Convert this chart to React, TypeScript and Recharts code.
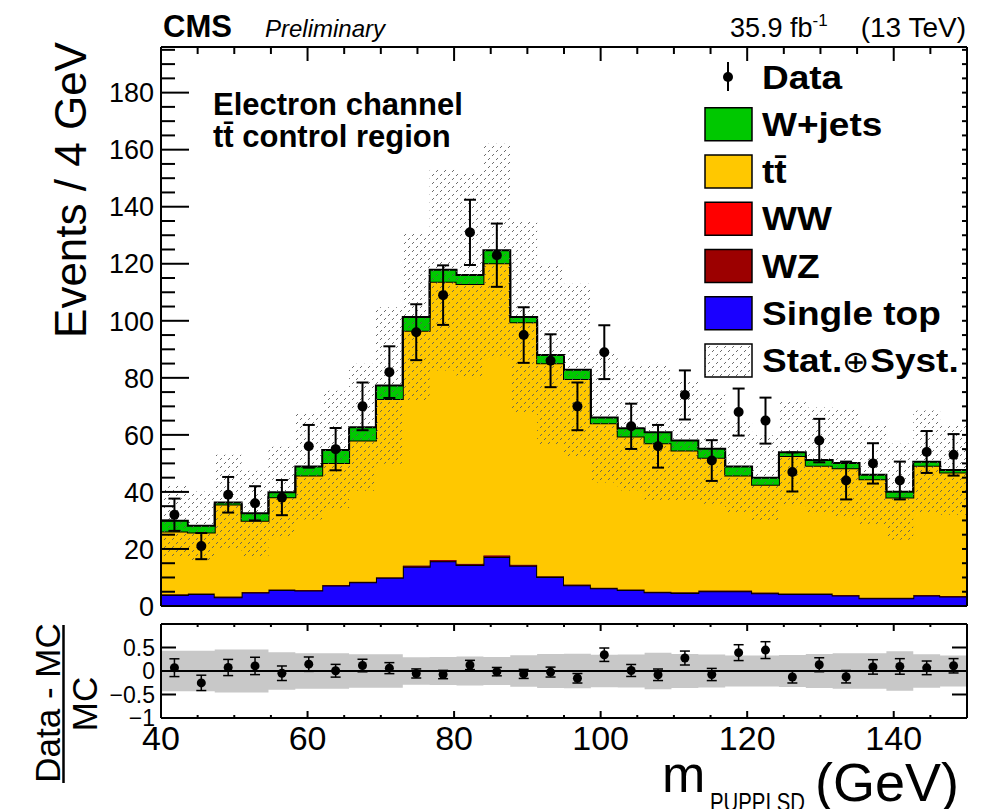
import React from 'react';
import { ComposedChart, Area, Scatter, XAxis, YAxis, ErrorBar, ReferenceLine } from 'recharts';

// Binning of the soft-drop mass axis
const X_MIN = 40;
const X_MAX = 150;
const N_BINS = 30;

// Observed events per bin
const dataCounts = [32, 21, 39, 36, 38, 56, 55, 70, 82, 96, 109, 131, 123, 95, 86, 70, 89, 63, 56, 74, 51, 68, 65, 47, 58, 44, 50, 44, 54, 53];

// Simulated backgrounds per bin (stacked bottom to top: single top, WZ, WW, ttbar, W+jets)
const singleTop = [3.9, 4.2, 3.1, 4.7, 5.6, 5.4, 7.2, 8.3, 9.9, 13.8, 15.7, 14.4, 17.2, 14.1, 10.2, 7.3, 6.2, 5.6, 4.8, 4.6, 5.2, 5.2, 4.5, 4.2, 4.2, 3.7, 2.7, 2.7, 3.7, 3.3];
const wz = [0.1, 0.1, 0.1, 0.1, 0.1, 0.1, 0.1, 0.1, 0.1, 0.2, 0.2, 0.2, 0.3, 0.2, 0.1, 0.1, 0.1, 0.1, 0.1, 0.1, 0.1, 0.1, 0.1, 0.1, 0.1, 0.1, 0.1, 0.1, 0.1, 0.1];
const ww = [0.1, 0.1, 0.1, 0.1, 0.1, 0.1, 0.1, 0.1, 0.1, 0.2, 0.2, 0.2, 0.3, 0.2, 0.1, 0.1, 0.1, 0.1, 0.1, 0.1, 0.1, 0.1, 0.1, 0.1, 0.1, 0.1, 0.1, 0.1, 0.1, 0.1];
const ttbar = [22.0, 21.4, 32.3, 25.0, 32.3, 40.2, 42.7, 49.5, 62.5, 82.3, 97.6, 98.1, 102.4, 85.0, 74.7, 72.1, 57.7, 53.6, 52.1, 49.7, 46.6, 40.4, 37.8, 48.2, 44.8, 44.4, 41.5, 35.1, 45.3, 43.3];
const wJets = [3.8, 2.3, 0.7, 2.6, 1.8, 3.1, 4.6, 4.7, 4.7, 4.8, 4.2, 3.2, 4.5, 1.8, 2.9, 3.2, 2.0, 2.9, 3.8, 3.5, 3.1, 3.1, 2.5, 1.3, 2.0, 1.8, 1.6, 2.1, 1.4, 0.9];

// Relative total (stat. + syst.) uncertainty on the prediction per bin
const systRel = [0.43, 0.43, 0.46, 0.46, 0.40, 0.38, 0.38, 0.355, 0.355, 0.29, 0.30, 0.31, 0.30, 0.335, 0.36, 0.365, 0.345, 0.35, 0.39, 0.36, 0.35, 0.33, 0.33, 0.34, 0.36, 0.38, 0.38, 0.42, 0.355, 0.33];

// Axis ticks
const xTicks = [40, 45, 50, 55, 60, 65, 70, 75, 80, 85, 90, 95, 100, 105, 110, 115, 120, 125, 130, 135, 140, 145, 150];
const yTicksMain = [0, 5, 10, 15, 20, 25, 30, 35, 40, 45, 50, 55, 60, 65, 70, 75, 80, 85, 90, 95, 100, 105, 110, 115, 120, 125, 130, 135, 140, 145, 150, 155, 160, 165, 170, 175, 180, 185, 190, 195];
const yTicksRatio = [-1, -0.5, 0, 0.5, 1];
const ratioLabels: Record<string, string> = { '-1': '\u22121', '-0.5': '\u22120.5', '0': '0', '0.5': '0.5' };

// Legend entries
const legendItems = [
  { label: 'Data', kind: 'data', color: '#000' },
  { label: 'W+jets', kind: 'box', color: '#00c800' },
  { label: 't\u0074\u0304', kind: 'box', color: '#ffc800' },
  { label: 'WW', kind: 'box', color: '#ff0000' },
  { label: 'WZ', kind: 'box', color: '#9c0000' },
  { label: 'Single top', kind: 'box', color: '#1a00ff' },
  { label: 'Stat.|Syst.', kind: 'hatch', color: '#fff' },
];

const FONT = '"Liberation Sans", Arial, Helvetica, sans-serif';

const binWidth = (X_MAX - X_MIN) / N_BINS;
const binEdges = Array.from({ length: N_BINS + 1 }, (_, i) => X_MIN + i * binWidth);
const totalMC = singleTop.map((_, b) => singleTop[b] + wz[b] + ww[b] + ttbar[b] + wJets[b]);

// One row per bin edge; the final edge repeats the last bin so the step closes at 150
const stackRows = binEdges.map((x, i) => {
  const b = Math.min(i, N_BINS - 1);
  const t = totalMC[b];
  return {
    x,
    singleTop: singleTop[b],
    wz: wz[b],
    ww: ww[b],
    ttbar: ttbar[b],
    wJets: wJets[b],
    band: [t * (1 - systRel[b]), t * (1 + systRel[b])],
    ratioBand: [-systRel[b], systRel[b]],
  };
});

const dataRows = dataCounts.map((n, b) => ({
  x: (binEdges[b] + binEdges[b + 1]) / 2,
  y: n,
  err: Math.sqrt(n),
}));

const ratioRows = dataCounts.map((n, b) => ({
  x: (binEdges[b] + binEdges[b + 1]) / 2,
  y: n / totalMC[b] - 1,
  err: Math.sqrt(n) / totalMC[b],
}));

// ---- inward-pointing ROOT style ticks ----
const MainLeftTick = (p: any) => {
  const v = p.payload.value;
  const major = v % 20 === 0;
  return (
    <g>
      <line x1={p.x} x2={p.x + (major ? 28 : 14)} y1={p.y} y2={p.y} stroke="#000" strokeWidth={2} />
      {major && (
        <text x={p.x - 7} y={p.y} dy="0.36em" textAnchor="end" fontSize={27} fontFamily={FONT} fill="#000">
          {v}
        </text>
      )}
    </g>
  );
};

const MainRightTick = (p: any) => (
  <line x1={p.x} x2={p.x - 5} y1={p.y} y2={p.y} stroke="#000" strokeWidth={2} />
);

const MainTopTick = (p: any) => {
  const major = p.payload.value % 20 === 0;
  return <line x1={p.x} x2={p.x} y1={p.y} y2={p.y + (major ? 14 : 7)} stroke="#000" strokeWidth={2} />;
};

const RatioTopTick = (p: any) => {
  const major = p.payload.value % 20 === 0;
  return <line x1={p.x} x2={p.x} y1={p.y} y2={p.y + (major ? 7 : 3)} stroke="#000" strokeWidth={2} />;
};

const RatioBottomTick = (p: any) => {
  const v = p.payload.value;
  const major = v % 20 === 0;
  return (
    <g>
      <line x1={p.x} x2={p.x} y1={p.y} y2={p.y - (major ? 7 : 3)} stroke="#000" strokeWidth={2} />
      {major && (
        <text x={p.x} y={p.y + 32} textAnchor="middle" fontSize={34} fontFamily={FONT} fill="#000">
          {v}
        </text>
      )}
    </g>
  );
};

const RatioLeftTick = (p: any) => {
  const v = p.payload.value;
  const label = ratioLabels[String(v)];
  const long = Math.abs(v) === 0.5;
  return (
    <g>
      {long && <line x1={p.x} x2={p.x + 15} y1={p.y} y2={p.y} stroke="#000" strokeWidth={2} />}
      {label && (
        <text x={p.x - 6} y={p.y} dy="0.36em" textAnchor="end" fontSize={23} fontFamily={FONT} fill="#000">
          {label}
        </text>
      )}
    </g>
  );
};

const RatioRightTick = (p: any) => (
  <line x1={p.x} x2={p.x - 15} y1={p.y} y2={p.y} stroke="#000" strokeWidth={2} />
);

const frameLine = { stroke: '#000', strokeWidth: 2 };

// Sparse dashed diagonal hatching for the uncertainty band
const HatchDef = ({ id }: { id: string }) => (
  <pattern id={id} patternUnits="userSpaceOnUse" width="8" height="8">
    <path d="M0,8 L8,0" stroke="#5a5a5a" strokeWidth="0.9" strokeDasharray="2.83 2.83" />
  </pattern>
);

const dataDot = (r: number) => (p: any) => <circle cx={p.cx} cy={p.cy} r={r} fill="#000" />;

const LegendLabel = ({ x, y, label }: { x: number; y: number; label: string }) => {
  const parts = label.split('|');
  return (
    <text transform={`translate(${x} ${y}) scale(1 0.92)`} x={0} y={0} fontSize={37} fontWeight="bold" fill="#000">
      {parts.length === 1 ? (
        label
      ) : (
        <>
          {parts[0]}
          <tspan fontWeight="normal" fontSize={33}>{'\u2295'}</tspan>
          {parts[1]}
        </>
      )}
    </text>
  );
};

export default function App() {
  const rowH = 47.25;
  return (
    <div style={{ position: 'absolute', left: 0, top: 0, width: 996, height: 809, background: '#fff', fontFamily: FONT }}>
      {/* Upper pad: stacked prediction with data */}
      <div style={{ position: 'absolute', left: 0, top: 0 }}>
        <ComposedChart width={996} height={640} data={stackRows} margin={{ top: 37, right: 19, bottom: 24, left: 151 }}>
          <defs>
            <HatchDef id="hatch" />
          </defs>
          <Area type="stepAfter" dataKey="singleTop" stackId="mc" fill="#1a00ff" fillOpacity={1} stroke="#000" strokeWidth={2} isAnimationActive={false} />
          <Area type="stepAfter" dataKey="wz" stackId="mc" fill="#9c0000" fillOpacity={1} stroke="#000" strokeWidth={0.5} isAnimationActive={false} />
          <Area type="stepAfter" dataKey="ww" stackId="mc" fill="#ff0000" fillOpacity={1} stroke="#000" strokeWidth={0.5} isAnimationActive={false} />
          <Area type="stepAfter" dataKey="ttbar" stackId="mc" fill="#ffc800" fillOpacity={1} stroke="#000" strokeWidth={2} isAnimationActive={false} />
          <Area type="stepAfter" dataKey="wJets" stackId="mc" fill="#00c800" fillOpacity={1} stroke="#000" strokeWidth={2} isAnimationActive={false} />
          <Area type="stepAfter" dataKey="band" fill="url(#hatch)" fillOpacity={1} stroke="none" isAnimationActive={false} />
          <Scatter data={dataRows} dataKey="y" shape={dataDot(5)} isAnimationActive={false}>
            <ErrorBar dataKey="err" direction="y" width={6} stroke="#000" strokeWidth={2} />
          </Scatter>
          <XAxis dataKey="x" type="number" domain={[X_MIN, X_MAX]} allowDataOverflow height={10} tick={false} tickLine={false} axisLine={frameLine} />
          <XAxis xAxisId="top" orientation="top" dataKey="x" type="number" domain={[X_MIN, X_MAX]} allowDataOverflow height={10} ticks={xTicks} interval={0} tickSize={0} tickMargin={0} tick={MainTopTick} tickLine={false} axisLine={frameLine} />
          <YAxis type="number" domain={[0, 196]} allowDataOverflow width={10} ticks={yTicksMain} interval={0} tickSize={0} tickMargin={0} tick={MainLeftTick} tickLine={false} axisLine={frameLine} />
          <YAxis yAxisId="right" orientation="right" type="number" domain={[0, 196]} allowDataOverflow width={10} ticks={yTicksMain} interval={0} tickSize={0} tickMargin={0} tick={MainRightTick} tickLine={false} axisLine={frameLine} />
        </ComposedChart>
      </div>

      {/* Lower pad: (Data - MC) / MC */}
      <div style={{ position: 'absolute', left: 0, top: 600 }}>
        <ComposedChart width={996} height={200} data={stackRows} margin={{ top: 14, right: 19, bottom: 72, left: 151 }}>
          <Area type="stepAfter" dataKey="ratioBand" fill="#c8c8c8" fillOpacity={1} stroke="none" isAnimationActive={false} />
          <ReferenceLine y={0} stroke="#000" strokeWidth={2} />
          <Scatter data={ratioRows} dataKey="y" shape={dataDot(4.5)} isAnimationActive={false}>
            <ErrorBar dataKey="err" direction="y" width={5} stroke="#000" strokeWidth={1.5} />
          </Scatter>
          <XAxis dataKey="x" type="number" domain={[X_MIN, X_MAX]} allowDataOverflow height={10} ticks={xTicks} interval={0} tickSize={0} tickMargin={0} tick={RatioBottomTick} tickLine={false} axisLine={frameLine} />
          <XAxis xAxisId="top" orientation="top" dataKey="x" type="number" domain={[X_MIN, X_MAX]} allowDataOverflow height={10} ticks={xTicks} interval={0} tickSize={0} tickMargin={0} tick={RatioTopTick} tickLine={false} axisLine={frameLine} />
          <YAxis type="number" domain={[-1, 1]} allowDataOverflow width={10} ticks={yTicksRatio} interval={0} tickSize={0} tickMargin={0} tick={RatioLeftTick} tickLine={false} axisLine={frameLine} />
          <YAxis yAxisId="right" orientation="right" type="number" domain={[-1, 1]} allowDataOverflow width={10} ticks={[-0.5, 0.5]} interval={0} tickSize={0} tickMargin={0} tick={RatioRightTick} tickLine={false} axisLine={frameLine} />
        </ComposedChart>
      </div>

      {/* Titles, labels and legend */}
      <svg width={996} height={809} style={{ position: 'absolute', left: 0, top: 0, pointerEvents: 'none' }} fontFamily={FONT}>
        <defs>
          <HatchDef id="hatchLegend" />
        </defs>
        <text x={163} y={37} fontSize={31} fontWeight="bold" fill="#000">CMS</text>
        <text x={265} y={37} fontSize={24} fontStyle="italic" fill="#000">Preliminary</text>
        <text x={730} y={37} fontSize={27} fill="#000">
          35.9 fb<tspan fontSize={17} dy={-11}>-1</tspan>
        </text>
        <text x={966} y={37} fontSize={28} textAnchor="end" fill="#000">(13 TeV)</text>

        <text x={213} y={115} fontSize={31} fontWeight="bold" fill="#000">Electron channel</text>
        <text x={213} y={147} fontSize={31} fontWeight="bold" fill="#000">{'t\u0074\u0304 control region'}</text>

        {legendItems.map((it, i) => {
          const cy = 77 + i * rowH;
          return (
            <g key={it.label}>
              {it.kind === 'data' && (
                <g>
                  <line x1={728} x2={728} y1={cy - 15} y2={cy + 14} stroke="#000" strokeWidth={2} />
                  <circle cx={728} cy={cy} r={5} fill="#000" />
                </g>
              )}
              {it.kind === 'box' && (
                <rect x={705} y={cy - 16.5} width={47} height={33} fill={it.color} stroke="#000" strokeWidth={1.5} />
              )}
              {it.kind === 'hatch' && (
                <rect x={705} y={cy - 16.5} width={47} height={33} fill="url(#hatchLegend)" stroke="#000" strokeWidth={1.5} />
              )}
              <LegendLabel x={762} y={cy + 11.5} label={it.label} />
            </g>
          );
        })}

        <text x={86} y={190} fontSize={44} textAnchor="middle" transform="rotate(-90 86 190)" fill="#000">Events / 4 GeV</text>

        <text x={60} y={703} fontSize={35} textAnchor="middle" transform="rotate(-90 60 703)" fill="#000">Data - MC</text>
        <line x1={63.5} x2={63.5} y1={625} y2={783} stroke="#000" strokeWidth={2.5} />
        <text x={97} y={704} fontSize={35} textAnchor="middle" transform="rotate(-90 97 704)" fill="#000">MC</text>

        <text x={662} y={792} fontSize={52} fill="#000">m</text>
        <text x={710} y={811} fontSize={26} textLength={95} lengthAdjust="spacingAndGlyphs" fill="#000">PUPPI SD</text>
        <text x={815} y={801} fontSize={54} fill="#000">(GeV)</text>
      </svg>
    </div>
  );
}
